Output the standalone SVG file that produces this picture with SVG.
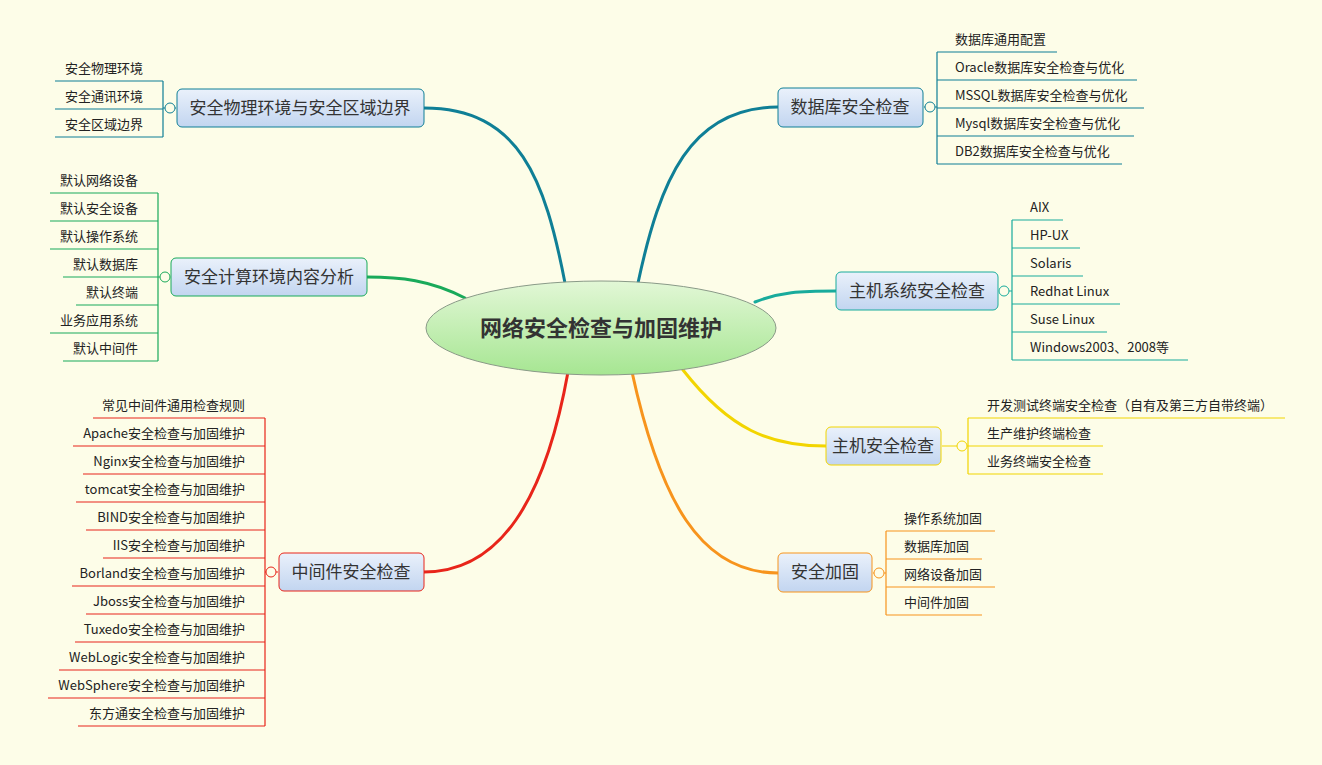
<svg xmlns="http://www.w3.org/2000/svg" width="1322" height="765" viewBox="0 0 1322 765">
<defs>
<linearGradient id="nb" x1="0" y1="0" x2="0" y2="1"><stop offset="0" stop-color="#eaf1fb"/><stop offset="1" stop-color="#c2d5f0"/></linearGradient>
<linearGradient id="cg" x1="0" y1="0" x2="0" y2="1"><stop offset="0" stop-color="#e2f7d6"/><stop offset="1" stop-color="#a6e692"/></linearGradient>
</defs>
<style>
text{font-family:"Noto Sans CJK SC","Liberation Sans",sans-serif;fill:#222}
.l{font-size:13px}
.n{font-size:17px;fill:#333}
.c{font-size:22px;font-weight:bold;fill:#333}
.b{fill:url(#nb);stroke-width:1}
.k{fill:none;stroke-width:1.2}
.cv{fill:none;stroke-width:3;stroke-linecap:round}
.o{fill:#fdfde8;stroke-width:1}
.t{stroke:#0f7f96}.g{stroke:#19aa5a}.r{stroke:#e8251a}.y{stroke:#f2d500}.a{stroke:#f7941d}.s{stroke:#18ab9c}
</style>
<rect width="1322" height="765" fill="#fdfde8"/>
<g id="connectors">
<path class="cv t" d="M565,283 C545,180 520,108 424,108"/>
<path class="cv t" d="M638,283 C660,180 690,107 778,107"/>
<path class="cv s" d="M755,302 C780,292 800,291 836,291"/>
<path class="cv y" d="M683,370 C730,430 770,446 826,446"/>
<path class="cv a" d="M632,372 C660,500 700,573 778,573"/>
<path class="cv r" d="M568,372 C545,500 500,572 424,572"/>
<path class="cv g" d="M465,298 C430,280 400,277 367,277"/>
</g>
<g id="center"><ellipse cx="601" cy="328" rx="175" ry="47" fill="url(#cg)" stroke="#8a9a88"/><text class="c" x="601" y="336" text-anchor="middle">网络安全检查与加固维护</text></g>

<g id="n1">
<rect class="b t" x="177" y="89" width="247" height="38" rx="5"/><text class="n" x="300" y="114" text-anchor="middle">安全物理环境与安全区域边界</text>
<path class="k t" d="M176,108H163M163,81V137M163,81H55M163,109H55M163,137H55"/><circle class="o t" cx="170" cy="108" r="5"/>
<g class="l" text-anchor="end"><text x="143" y="73">安全物理环境</text><text x="143" y="101">安全通讯环境</text><text x="143" y="129">安全区域边界</text></g>
</g>

<g id="n2">
<rect class="b g" x="171" y="258" width="196" height="38" rx="5"/><text class="n" x="269" y="283" text-anchor="middle">安全计算环境内容分析</text>
<path class="k g" d="M170,277H158M158,193V361M158,193H50M158,221H50M158,249H50M158,277H63M158,305H76M158,333H50M158,361H63"/><circle class="o g" cx="165" cy="277" r="5"/>
<g class="l" text-anchor="end"><text x="138" y="185">默认网络设备</text><text x="138" y="213">默认安全设备</text><text x="138" y="241">默认操作系统</text><text x="138" y="269">默认数据库</text><text x="138" y="297">默认终端</text><text x="138" y="325">业务应用系统</text><text x="138" y="353">默认中间件</text></g>
</g>

<g id="n3">
<rect class="b r" x="279" y="553" width="145" height="38" rx="5"/><text class="n" x="351" y="578" text-anchor="middle">中间件安全检查</text>
<path class="k r" d="M278,572H265M265,418V726M265,418H93M265,446H73M265,474H83M265,502H76M265,530H86M265,558H103M265,586H72M265,614H86M265,642H75M265,670H59M265,698H48M265,726H78"/><circle class="o r" cx="271" cy="572" r="5"/>
<g class="l" text-anchor="end"><text x="245" y="410">常见中间件通用检查规则</text><text x="245" y="438">Apache安全检查与加固维护</text><text x="245" y="466">Nginx安全检查与加固维护</text><text x="245" y="494">tomcat安全检查与加固维护</text><text x="245" y="522">BIND安全检查与加固维护</text><text x="245" y="550">IIS安全检查与加固维护</text><text x="245" y="578">Borland安全检查与加固维护</text><text x="245" y="606">Jboss安全检查与加固维护</text><text x="245" y="634">Tuxedo安全检查与加固维护</text><text x="245" y="662">WebLogic安全检查与加固维护</text><text x="245" y="690">WebSphere安全检查与加固维护</text><text x="245" y="718">东方通安全检查与加固维护</text></g>
</g>

<g id="n4">
<rect class="b t" x="778" y="88" width="145" height="39" rx="5"/><text class="n" x="850" y="113" text-anchor="middle">数据库安全检查</text>
<path class="k t" d="M924,107H937M937,52V164M937,52H1057M937,80H1137M937,108H1144M937,136H1134M937,164H1122"/><circle class="o t" cx="930" cy="107" r="5"/>
<g class="l"><text x="955" y="44">数据库通用配置</text><text x="955" y="72">Oracle数据库安全检查与优化</text><text x="955" y="100">MSSQL数据库安全检查与优化</text><text x="955" y="128">Mysql数据库安全检查与优化</text><text x="955" y="156">DB2数据库安全检查与优化</text></g>
</g>

<g id="n5">
<rect class="b s" x="836" y="272" width="162" height="38" rx="5"/><text class="n" x="917" y="297" text-anchor="middle">主机系统安全检查</text>
<path class="k s" d="M999,291H1012M1012,220V360M1012,220H1063M1012,248H1080M1012,276H1083M1012,304H1120M1012,332H1107M1012,360H1188"/><circle class="o s" cx="1004" cy="291" r="5"/>
<g class="l"><text x="1030" y="212">AIX</text><text x="1030" y="240">HP-UX</text><text x="1030" y="268">Solaris</text><text x="1030" y="296">Redhat Linux</text><text x="1030" y="324">Suse Linux</text><text x="1030" y="352">Windows2003、2008等</text></g>
</g>

<g id="n6">
<rect class="b y" x="826" y="427" width="115" height="38" rx="5"/><text class="n" x="883" y="452" text-anchor="middle">主机安全检查</text>
<path class="k y" d="M942,446H968M968,418V474M968,418H1285M968,446H1103M968,474H1103"/><circle class="o y" cx="962" cy="446" r="5"/>
<g class="l"><text x="987" y="410">开发测试终端安全检查（自有及第三方自带终端）</text><text x="987" y="438">生产维护终端检查</text><text x="987" y="466">业务终端安全检查</text></g>
</g>

<g id="n7">
<rect class="b a" x="778" y="553" width="94" height="39" rx="5"/><text class="n" x="825" y="578" text-anchor="middle">安全加固</text>
<path class="k a" d="M873,573H886M886,531V615M886,531H995M886,559H982M886,587H995M886,615H982"/><circle class="o a" cx="879" cy="573" r="5"/>
<g class="l"><text x="904" y="523">操作系统加固</text><text x="904" y="551">数据库加固</text><text x="904" y="579">网络设备加固</text><text x="904" y="607">中间件加固</text></g>
</g>
</svg>
